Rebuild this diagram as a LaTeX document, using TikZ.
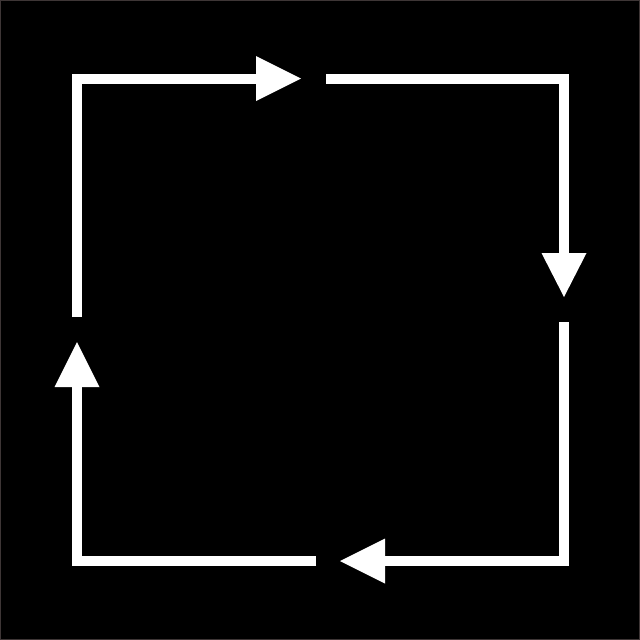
\documentclass[tikz,border=0pt]{standalone}
\usetikzlibrary{calc}
\begin{document}
\begin{tikzpicture}[x=1pt,y=-1pt,
  seg/.style={draw=white,line width=10pt,line join=miter,line cap=butt},
  head/.style={fill=white}]
\useasboundingbox (0,0) rectangle (640,640);
\fill[black] (0,0) rectangle (640,640);
\draw[line width=1pt,color=black!75!red!40!white!35!black] (0.5,0.5) rectangle (639.5,639.5);
% corners and ends
\coordinate (tlA) at (77,317);
\coordinate (tlC) at (77,78.5);
\coordinate (tlB) at (256,78.5);
\coordinate (trA) at (326,78.5);
\coordinate (trC) at (564,78.5);
\coordinate (trB) at (564,253);
\coordinate (brA) at (564,322);
\coordinate (brC) at (564,561);
\coordinate (brB) at (385,561);
\coordinate (blA) at (316,561);
\coordinate (blC) at (77,561);
\coordinate (blB) at (77,387);
% segments
\draw[seg] (tlA) -- (tlC) -- (tlB);
\draw[seg] (trA) -- (trC) -- (trB);
\draw[seg] (brA) -- (brC) -- (brB);
\draw[seg] (blA) -- (blC) -- (blB);
% arrowheads
\fill[head] ($(tlB)+(0,-22.5)$) -- ++(45,22.5) -- ++(-45,22.5) -- cycle;
\fill[head] ($(trB)+(-22.5,0)$) -- ++(22.5,44) -- ++(22.5,-44) -- cycle;
\fill[head] ($(brB)+(0,-22.5)$) -- ++(-45,22.5) -- ++(45,22.5) -- cycle;
\fill[head] ($(blB)+(-22.5,0)$) -- ++(22.5,-45) -- ++(22.5,45) -- cycle;
\end{tikzpicture}
\end{document}
